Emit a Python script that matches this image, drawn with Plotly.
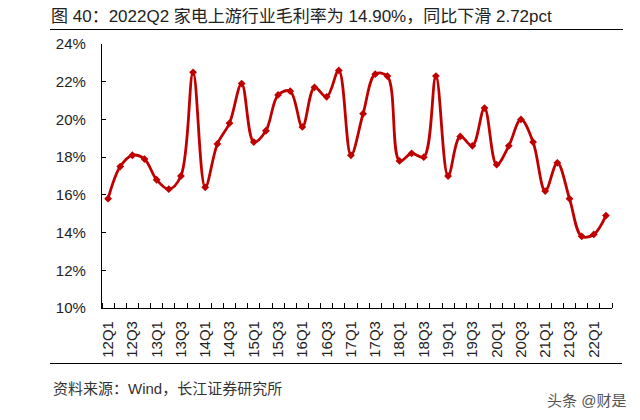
import plotly.graph_objects as go

quarters = [f"{y}Q{q}" for y in range(12, 23) for q in range(1, 5)][:42]
margin_pct = [15.8, 17.5, 18.1, 17.9, 16.8, 16.3, 17.0, 22.5, 16.4, 18.7,
              19.8, 21.9, 18.8, 19.4, 21.3, 21.5, 19.6, 21.7, 21.2, 22.6,
              18.1, 20.3, 22.4, 22.3, 17.8, 18.2, 18.0, 22.3, 17.0, 19.1,
              18.6, 20.6, 17.6, 18.6, 20.0, 18.8, 16.2, 17.7, 15.8, 13.8,
              13.9, 14.9]
y_ticks = [10, 12, 14, 16, 18, 20, 22, 24]
y_ticktext = [f"{v}%" for v in y_ticks]

title_text = "图 40：2022Q2 家电上游行业毛利率为 14.90%，同比下滑 2.72pct"
source_text = "资料来源：Wind，长江证券研究所"
watermark = "头条 @财是"

OFF = 8  # default page body margin
W, H = 640 - OFF, 420 - OFF

def px(x):
    return (x - OFF) / W

def py(y):
    return 1 - (y - OFF) / H

idx = list(range(len(quarters)))
label_idx = idx[::2]
label_txt = quarters[::2]

fig = go.Figure()
fig.add_trace(go.Scatter(
    x=idx, y=margin_pct, mode="lines+markers",
    line=dict(color="#C00000", width=2.8, shape="spline", smoothing=1.0),
    marker=dict(symbol="diamond", size=6, color="#C00000"),
    hoverinfo="skip", showlegend=False,
))

font = "Liberation Sans, Arial, Noto Sans CJK SC, sans-serif"
cjk = "Liberation Sans, Noto Sans CJK SC, sans-serif"

fig.update_layout(
    width=W, height=H,
    margin=dict(l=0, r=0, t=0, b=0, autoexpand=False),
    paper_bgcolor="white", plot_bgcolor="white",
    font=dict(family=font, size=15, color="#222"),
    xaxis=dict(
        domain=[px(102), px(612)],
        range=[-0.5, len(quarters) - 0.5], automargin=False,
        tickmode="array", tickvals=label_idx, ticktext=label_txt,
        tickangle=-90, ticks="", showgrid=False, zeroline=False,
        showline=True, linecolor="black", linewidth=1.2,
        ticklabelstandoff=6,
        tickfont=dict(size=15, color="#222"),
        minor=dict(tickmode="linear", tick0=-0.5, dtick=1, ticks="inside",
                   ticklen=5, tickcolor="black", tickwidth=1, showgrid=False),
    ),
    yaxis=dict(
        domain=[py(308), py(44)],
        range=[10, 24], automargin=False,
        tickmode="array", tickvals=y_ticks, ticktext=y_ticktext,
        ticks="inside", ticklen=4, tickcolor="black",
        showgrid=False, zeroline=False,
        showline=True, linecolor="black", linewidth=1.2,
        ticklabelstandoff=12,
        tickfont=dict(size=15, color="#222"),
    ),
)

# title in a fixed-width, left-aligned box
fig.add_annotation(x=px(50), y=py(17), xref="paper", yref="paper",
                   text=title_text, showarrow=False, xanchor="left", yanchor="middle",
                   width=575, align="left", borderpad=0,
                   font=dict(family=cjk, size=17, color="#222"))

# horizontal rules drawn as thin filled annotation boxes
for (xa, xb, yy) in [(50, 623, 30), (50, 622, 363)]:
    fig.add_annotation(x=px(xa), y=py(yy), xref="paper", yref="paper",
                       text=" ", showarrow=False, xanchor="left", yanchor="middle",
                       width=xb - xa, height=1, bgcolor="black", borderpad=0,
                       borderwidth=0, font=dict(size=1, color="black"))

fig.add_annotation(x=px(51), y=py(388), xref="paper", yref="paper",
                   text=source_text, showarrow=False, xanchor="left", yanchor="middle",
                   font=dict(family=cjk, size=15, color="#333"))
fig.add_annotation(x=px(628), y=py(400), xref="paper", yref="paper",
                   text=watermark, showarrow=False, xanchor="right", yanchor="middle",
                   font=dict(family=cjk, size=15, color="#555"))

fig.write_html("out.html")
